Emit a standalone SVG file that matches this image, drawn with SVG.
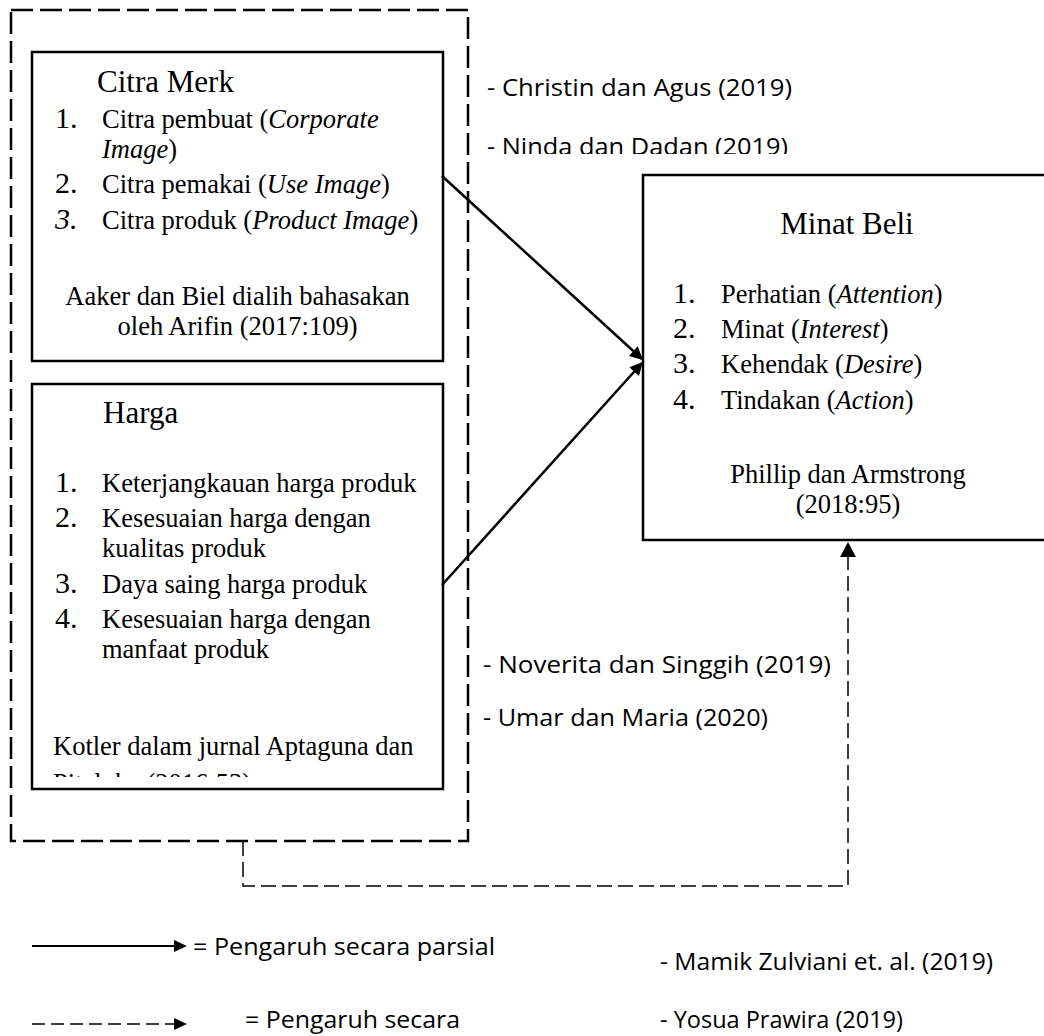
<svg xmlns="http://www.w3.org/2000/svg" width="1044" height="1036" viewBox="0 0 1044 1036">
  <style>
    .box { fill: #fff; stroke: #000; stroke-width: 2.5; }
    .serif { font-family: "Liberation Serif", "Times New Roman", serif; fill: #000; }
    .title { font-size: 31px; }
    .num { font-size: 30px; }
    .item { font-size: 26.5px; }
    .sans { font-family: "Open Sans", "Liberation Sans", sans-serif; font-size: 23px; fill: #000; }
    .it { font-style: italic; }
    .solid { fill: none; stroke: #000; stroke-width: 2.5; }
    .frame { fill: none; stroke: #000; stroke-width: 2.5; stroke-dasharray: 22 7; }
    .dash { fill: none; stroke: #000; stroke-width: 1.5; stroke-dasharray: 15 6; }
    .dash-sm { fill: none; stroke: #000; stroke-width: 1.5; stroke-dasharray: 13 6; }
  </style>
  <defs>
    <marker id="ah" viewBox="0 0 10 10" refX="9" refY="5" markerWidth="16" markerHeight="13" markerUnits="userSpaceOnUse" orient="auto">
      <path d="M0,0 L10,5 L0,10 z" fill="#000"/>
    </marker>
    <clipPath id="clipNinda"><rect x="470" y="100" width="400" height="54"/></clipPath>
    <clipPath id="clipPitaloka"><rect x="34" y="740" width="400" height="37"/></clipPath>
  </defs>

  <rect width="1044" height="1036" fill="#fff"/>

  <!-- dashed frame around the two independent variables -->
  <rect class="frame" x="11" y="10" width="457" height="831"/>

  <!-- Citra Merk -->
  <g id="citra-merk">
    <rect class="box" x="32" y="52" width="411" height="309"/>
    <text class="serif title" x="97" y="92">Citra Merk</text>
    <text class="serif num" x="55" y="128">1.</text>
    <text class="serif item" x="102" y="128">Citra pembuat (<tspan class="it">Corporate</tspan></text>
    <text class="serif item" x="102" y="158"><tspan class="it">Image</tspan>)</text>
    <text class="serif num" x="55" y="193">2.</text>
    <text class="serif item" x="102" y="193">Citra pemakai (<tspan class="it">Use Image</tspan>)</text>
    <text class="serif num it" x="55" y="229">3.</text>
    <text class="serif item" x="102" y="229">Citra produk (<tspan class="it">Product Image</tspan>)</text>
    <text class="serif item" x="237.5" y="305" text-anchor="middle">Aaker dan Biel dialih bahasakan</text>
    <text class="serif item" x="237.5" y="335" text-anchor="middle">oleh Arifin (2017:109)</text>
  </g>

  <!-- Harga -->
  <g id="harga">
    <rect class="box" x="32" y="384" width="411" height="405"/>
    <text class="serif title" x="103" y="423">Harga</text>
    <text class="serif num" x="55" y="492">1.</text>
    <text class="serif item" x="102" y="492">Keterjangkauan harga produk</text>
    <text class="serif num" x="55" y="527">2.</text>
    <text class="serif item" x="102" y="527">Kesesuaian harga dengan</text>
    <text class="serif item" x="102" y="557">kualitas produk</text>
    <text class="serif num" x="55" y="593">3.</text>
    <text class="serif item" x="102" y="593">Daya saing harga produk</text>
    <text class="serif num" x="55" y="628">4.</text>
    <text class="serif item" x="102" y="628">Kesesuaian harga dengan</text>
    <text class="serif item" x="102" y="658">manfaat produk</text>
    <text class="serif item" x="53" y="755">Kotler dalam jurnal Aptaguna dan</text>
    <text class="serif item" x="53" y="792" clip-path="url(#clipPitaloka)">Pitaloka (2016:53)</text>
  </g>

  <!-- Minat Beli -->
  <g id="minat-beli">
    <rect class="box" x="643" y="175" width="412" height="365"/>
    <text class="serif title" x="847" y="234" text-anchor="middle">Minat Beli</text>
    <text class="serif num" x="673" y="303">1.</text>
    <text class="serif item" x="721" y="303">Perhatian (<tspan class="it">Attention</tspan>)</text>
    <text class="serif num" x="673" y="338">2.</text>
    <text class="serif item" x="721" y="338">Minat (<tspan class="it">Interest</tspan>)</text>
    <text class="serif num" x="673" y="373">3.</text>
    <text class="serif item" x="721" y="373">Kehendak (<tspan class="it">Desire</tspan>)</text>
    <text class="serif num" x="673" y="409">4.</text>
    <text class="serif item" x="721" y="409">Tindakan (<tspan class="it">Action</tspan>)</text>
    <text class="serif item" x="848" y="483" text-anchor="middle">Phillip dan Armstrong</text>
    <text class="serif item" x="848" y="513" text-anchor="middle">(2018:95)</text>
  </g>

  <!-- connectors -->
  <g id="connectors">
    <line class="solid" x1="442" y1="176" x2="642" y2="359" marker-end="url(#ah)"/>
    <line class="solid" x1="442" y1="585" x2="642" y2="363" marker-end="url(#ah)"/>
    <path class="dash" d="M243,841 V886 H848 V557"/>
    <polygon points="848,542 840,557 856,557" fill="#000"/>
  </g>

  <!-- study references -->
  <g id="references">
    <text class="sans" x="487" y="96" textLength="305" lengthAdjust="spacingAndGlyphs">- Christin dan Agus (2019)</text>
    <text class="sans" x="487" y="155" textLength="301" lengthAdjust="spacingAndGlyphs" clip-path="url(#clipNinda)">- Ninda dan Dadan (2019)</text>
    <text class="sans" x="483" y="673" textLength="348" lengthAdjust="spacingAndGlyphs">- Noverita dan Singgih (2019)</text>
    <text class="sans" x="483" y="726" textLength="285" lengthAdjust="spacingAndGlyphs">- Umar dan Maria (2020)</text>
    <text class="sans" x="660" y="970" textLength="333" lengthAdjust="spacingAndGlyphs">- Mamik Zulviani et. al. (2019)</text>
    <text class="sans" x="660" y="1028" textLength="243" lengthAdjust="spacingAndGlyphs">- Yosua Prawira (2019)</text>
  </g>

  <!-- legend -->
  <g id="legend">
    <line x1="32" y1="946" x2="176" y2="946" stroke="#000" stroke-width="2"/>
    <polygon points="187,946 174,940 174,952" fill="#000"/>
    <text class="sans" x="193" y="955" textLength="302" lengthAdjust="spacingAndGlyphs">= Pengaruh secara parsial</text>
    <path class="dash-sm" d="M32,1024 H176"/>
    <polygon points="187,1024 174,1018 174,1030" fill="#000"/>
    <text class="sans" x="245" y="1028" textLength="215" lengthAdjust="spacingAndGlyphs">= Pengaruh secara</text>
  </g>
</svg>
